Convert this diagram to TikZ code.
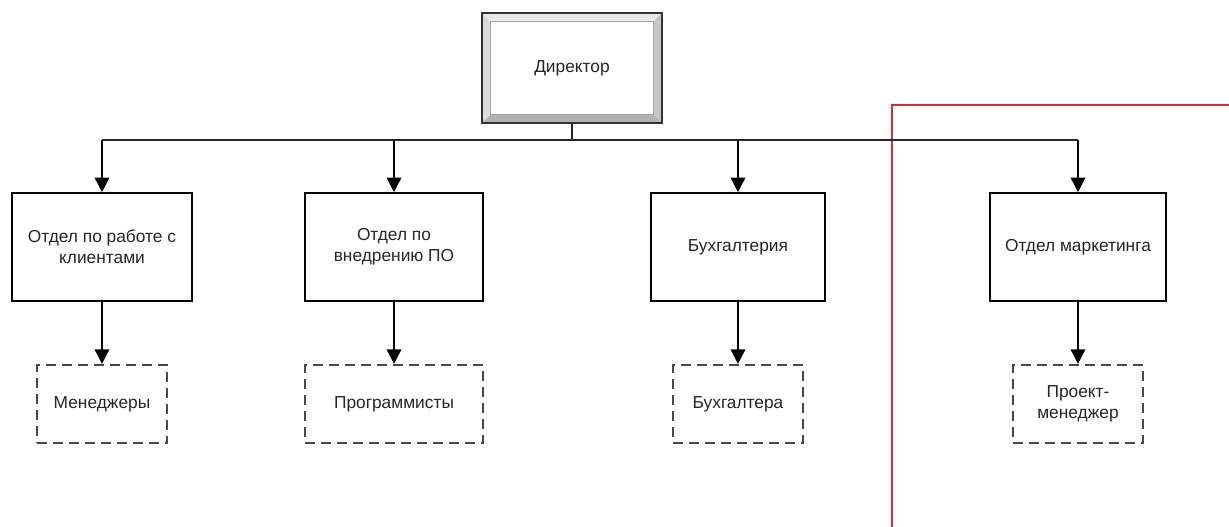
\documentclass[tikz,border=0pt]{standalone}
\usepackage{fontspec}
\setmainfont{Liberation Sans}
\usetikzlibrary{arrows.meta,backgrounds}
\definecolor{framered}{RGB}{205,50,55}
\begin{document}
\begin{tikzpicture}[x=0.75pt,y=-0.75pt,
  every node/.style={font=\fontsize{13}{16}\selectfont, text=black!85},
  unit/.style={draw=black, line width=1.2pt, fill=white, minimum width=133.5pt,
    minimum height=81pt, align=center, inner sep=0pt},
  staff/.style={draw=black!72, line width=1.6pt, dash pattern=on 7.5pt off 4.5pt,
    minimum height=58.5pt, align=center, inner sep=0pt, fill=white},
  link/.style={line width=1.2pt, -{Triangle[length=11pt,width=11pt]}},
  bus/.style={line width=1.4pt, black!85}]
\useasboundingbox (0,0) rectangle (1229,527);

% marketing area frame
\draw[framered, line width=0.9pt] (1229,105) -- (892,105) -- (892,527);

% director with bevelled frame
\node[minimum width=135pt, minimum height=82.5pt, inner sep=0pt] (dir) at (572,68) {Директор};
\begin{scope}[on background layer]
  \fill[gray!18] (dir.north west) -- (dir.north east) -- ([shift={(-6.5pt,-6.5pt)}]dir.north east)
    -- ([shift={(6.5pt,-6.5pt)}]dir.north west) -- cycle;
  \fill[gray!28] (dir.north west) -- ([shift={(6.5pt,-6.5pt)}]dir.north west)
    -- ([shift={(6.5pt,6.5pt)}]dir.south west) -- (dir.south west) -- cycle;
  \fill[gray!60] (dir.south west) -- ([shift={(6.5pt,6.5pt)}]dir.south west)
    -- ([shift={(-6.5pt,6.5pt)}]dir.south east) -- (dir.south east) -- cycle;
  \fill[gray!45] (dir.north east) -- ([shift={(-6.5pt,-6.5pt)}]dir.north east)
    -- ([shift={(-6.5pt,6.5pt)}]dir.south east) -- (dir.south east) -- cycle;
  \draw[gray!70, line width=0.6pt, fill=white] ([shift={(6.5pt,6.5pt)}]dir.south west)
    rectangle ([shift={(-6.5pt,-6.5pt)}]dir.north east);
  \draw[black!80, line width=1.4pt] (dir.south west) rectangle (dir.north east);
\end{scope}

% departments
\node[unit, minimum width=135pt] (b1) at (102,247) {Отдел по работе с\\клиентами};
\node[unit] (b2) at (394,247) {Отдел по\\внедрению ПО};
\node[unit, minimum width=130.5pt] (b3) at (738,247) {Бухгалтерия};
\node[unit, minimum width=132pt] (b4) at (1078,247) {Отдел маркетинга};

% staff groups
\node[staff, minimum width=98pt] (d1) at (102,404) {Менеджеры};
\node[staff, minimum width=133.5pt] (d2) at (394,404) {Программисты};
\node[staff, minimum width=97.5pt] (d3) at (738,404) {Бухгалтера};
\node[staff, minimum width=97.5pt] (d4) at (1078,404) {Проект-\\менеджер};

% bus from the director
\coordinate (j) at (572,140);
\coordinate (t1) at (b1.north |- j);
\coordinate (t2) at (b2.north |- j);
\coordinate (t3) at (b3.north |- j);
\coordinate (t4) at (b4.north |- j);
\draw[bus] (dir.south) -- (j);
\draw[bus] (t1) -- (t4);

\draw[link] (t1) -- (b1.north);
\draw[link] (t2) -- (b2.north);
\draw[link] (t3) -- (b3.north);
\draw[link] (t4) -- (b4.north);

\draw[link] (b1.south) -- (d1.north);
\draw[link] (b2.south) -- (d2.north);
\draw[link] (b3.south) -- (d3.north);
\draw[link] (b4.south) -- (d4.north);
\end{tikzpicture}
\end{document}
